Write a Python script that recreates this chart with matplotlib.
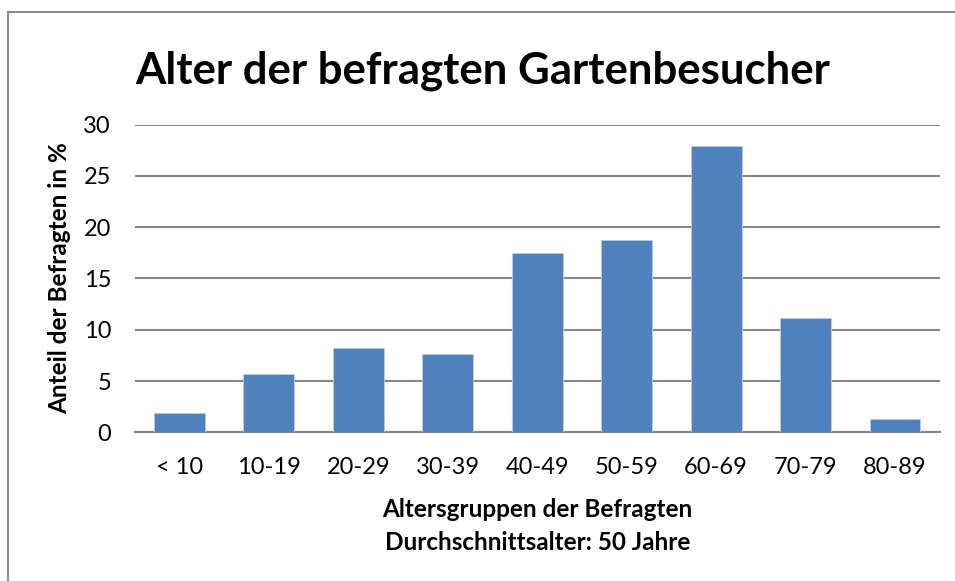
import matplotlib
matplotlib.use("Agg")
import matplotlib.pyplot as plt
from matplotlib.lines import Line2D

plt.rcParams['font.family'] = ['Lato', 'DejaVu Sans']

# data
age_groups = ['< 10', '10-19', '20-29', '30-39', '40-49', '50-59', '60-69', '70-79', '80-89']
share_pct = [1.85, 5.65, 8.2, 7.6, 17.45, 18.75, 27.95, 11.1, 1.25]

title = 'Alter der befragten Gartenbesucher'
x_label = 'Altersgruppen der Befragten\nDurchschnittsalter: 50 Jahre'
y_label = 'Anteil der Befragten in %'

bar_color = '#4F81BD'
grid_color = '#868686'

fig = plt.figure(figsize=(9.55, 5.81), dpi=100)
ax = fig.add_axes([0.141, 0.256, 0.843, 0.5294])

ax.bar(range(len(age_groups)), share_pct, width=0.57, color=bar_color,
       edgecolor='#b9cde5', linewidth=0.6, zorder=3)

ax.set_xlim(-0.5, len(age_groups) - 0.5)
ax.set_ylim(0, 30)
ax.set_yticks(range(0, 31, 5))
ax.set_xticks(range(len(age_groups)))
ax.set_xticklabels(age_groups)
ax.grid(axis='y', color=grid_color, linewidth=1.5, zorder=0)
ax.tick_params(axis='both', length=0, labelsize=17, colors='black')
ax.tick_params(axis='y', pad=17)
ax.tick_params(axis='x', pad=18)

for side in ['top', 'right', 'left']:
    ax.spines[side].set_visible(False)
ax.spines['bottom'].set_color(grid_color)
ax.spines['bottom'].set_linewidth(1.5)

ax.set_xlabel(x_label, fontsize=17.5, fontweight='bold', labelpad=14, linespacing=1.55)
ax.set_ylabel(y_label, fontsize=17.5, fontweight='bold')
ax.yaxis.set_label_coords(-0.079, 0.5)

fig.text(0.505, 0.879, title, fontsize=31.5, fontweight='bold', ha='center', va='center')

# chart frame (only top and left visible in the cropped reference)
fig.add_artist(Line2D([0.0085, 0.0085], [0, 0.979], color='#8c8c8c', linewidth=1.5,
                      transform=fig.transFigure))
fig.add_artist(Line2D([0.0085, 1.0], [0.979, 0.979], color='#8c8c8c', linewidth=1.5,
                      transform=fig.transFigure))

fig.savefig('out.png', dpi=100, facecolor='white')
